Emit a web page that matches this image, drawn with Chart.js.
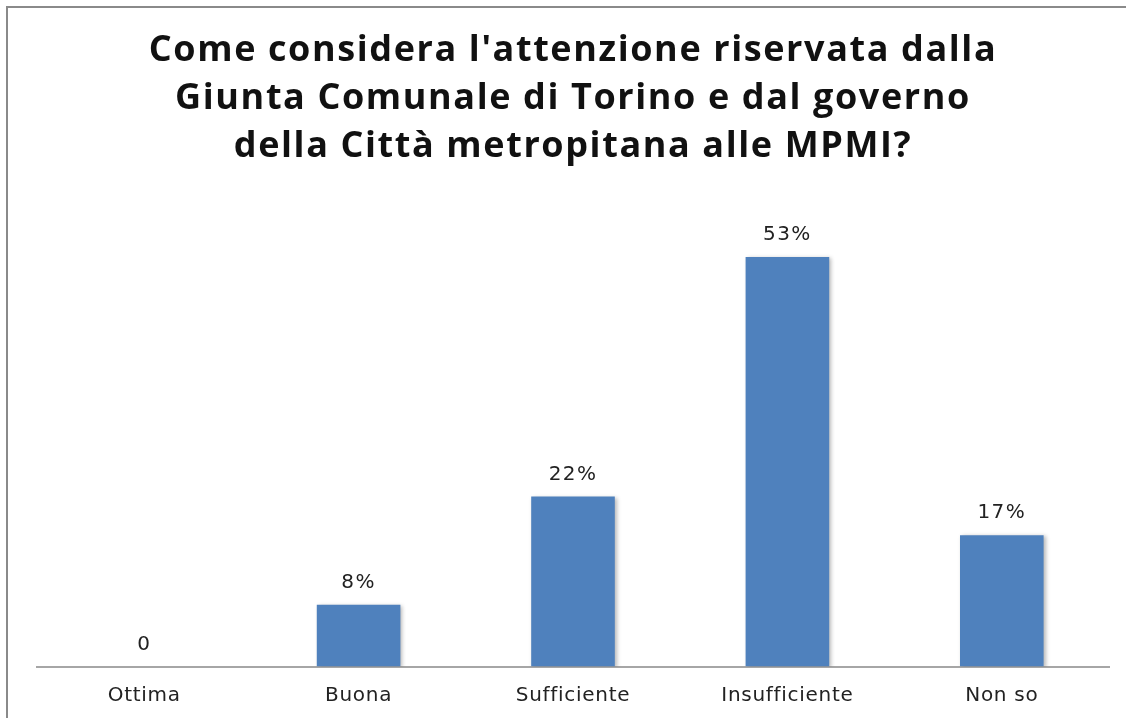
<!DOCTYPE html>
<html>
<head>
<meta charset="utf-8">
<script src="https://cdn.jsdelivr.net/npm/chart.js@4"></script>
<style>
  html, body { margin: 0; padding: 0; background: #fff; }
  #wrap { position: relative; width: 1126px; height: 718px; overflow: hidden; }
  #frame { position: absolute; left: 6px; top: 6px; width: 1200px; height: 800px;
           border-left: 2px solid #8a8a8a; border-top: 2px solid #8a8a8a; pointer-events: none; }
  canvas { position: absolute; left: 0; top: 0; }
</style>
</head>
<body>
<div id="wrap">
  <canvas id="c" width="1126" height="718"></canvas>
  <div id="frame"></div>
</div>
<script>
const titleLines = [
  "Come considera l'attenzione riservata dalla",
  "Giunta Comunale di Torino e dal governo",
  "della Città metropitana alle MPMI?"
];
const categories = ["Ottima", "Buona", "Sufficiente", "Insufficiente", "Non so"];
const values = [0, 8, 22, 53, 17];
const valueLabels = ["0", "8%", "22%", "53%", "17%"];

const spacingPlugin = {
  id: 'spacing',
  beforeUpdate(chart) { chart.ctx.letterSpacing = '0.7px'; },
  beforeLayout(chart) { chart.ctx.letterSpacing = '0.7px'; },
  afterLayout(chart) { chart.ctx.letterSpacing = '0.7px'; },
  beforeDraw(chart) { chart.ctx.letterSpacing = '1.6px'; }
};

const barLabelPlugin = {
  id: 'barLabels',
  beforeDatasetsDraw(chart) {
    const ctx = chart.ctx;
    ctx.save();
    ctx.shadowColor = 'rgba(0,0,0,0.28)';
    ctx.shadowBlur = 4;
    ctx.shadowOffsetX = 2;
    ctx.shadowOffsetY = 1;
  },
  afterDatasetsDraw(chart) {
    const ctx = chart.ctx;
    ctx.restore();
    ctx.save();
    ctx.letterSpacing = '1.4px';
    ctx.font = '20px "DejaVu Sans"';
    ctx.fillStyle = '#222';
    ctx.textAlign = 'center';
    ctx.textBaseline = 'middle';
    const meta = chart.getDatasetMeta(0);
    meta.data.forEach((bar, i) => {
      ctx.fillText(valueLabels[i], bar.x, bar.y - 22);
    });
    ctx.restore();
    ctx.letterSpacing = '0.7px';
  }
};

new Chart(document.getElementById('c'), {
  type: 'bar',
  data: {
    labels: categories,
    datasets: [{
      data: values,
      backgroundColor: '#4F81BD',
      borderWidth: 0,
      barPercentage: 0.39,
      categoryPercentage: 1.0
    }]
  },
  options: {
    responsive: false,
    animation: false,
    layout: { padding: { left: 37, right: 17, top: 0, bottom: 0 } },
    plugins: {
      legend: { display: false },
      tooltip: { enabled: false },
      title: {
        display: true,
        text: titleLines,
        color: '#111',
        font: { family: '"Open Sans"', size: 36, weight: 'bold', lineHeight: 48 / 36 },
        padding: { top: 27, bottom: 32 }
      }
    },
    scales: {
      x: {
        grid: { display: false, drawTicks: false },
        border: { display: true, color: '#a6a6a6', width: 2 },
        ticks: { z: 1, color: '#222', font: { family: '"DejaVu Sans"', size: 20 }, padding: 17, maxRotation: 0 },
        afterFit(scale) { scale.height = 51.5; }
      },
      y: {
        display: false,
        min: 0,
        max: 60
      }
    }
  },
  plugins: [spacingPlugin, barLabelPlugin]
});
</script>
</body>
</html>
